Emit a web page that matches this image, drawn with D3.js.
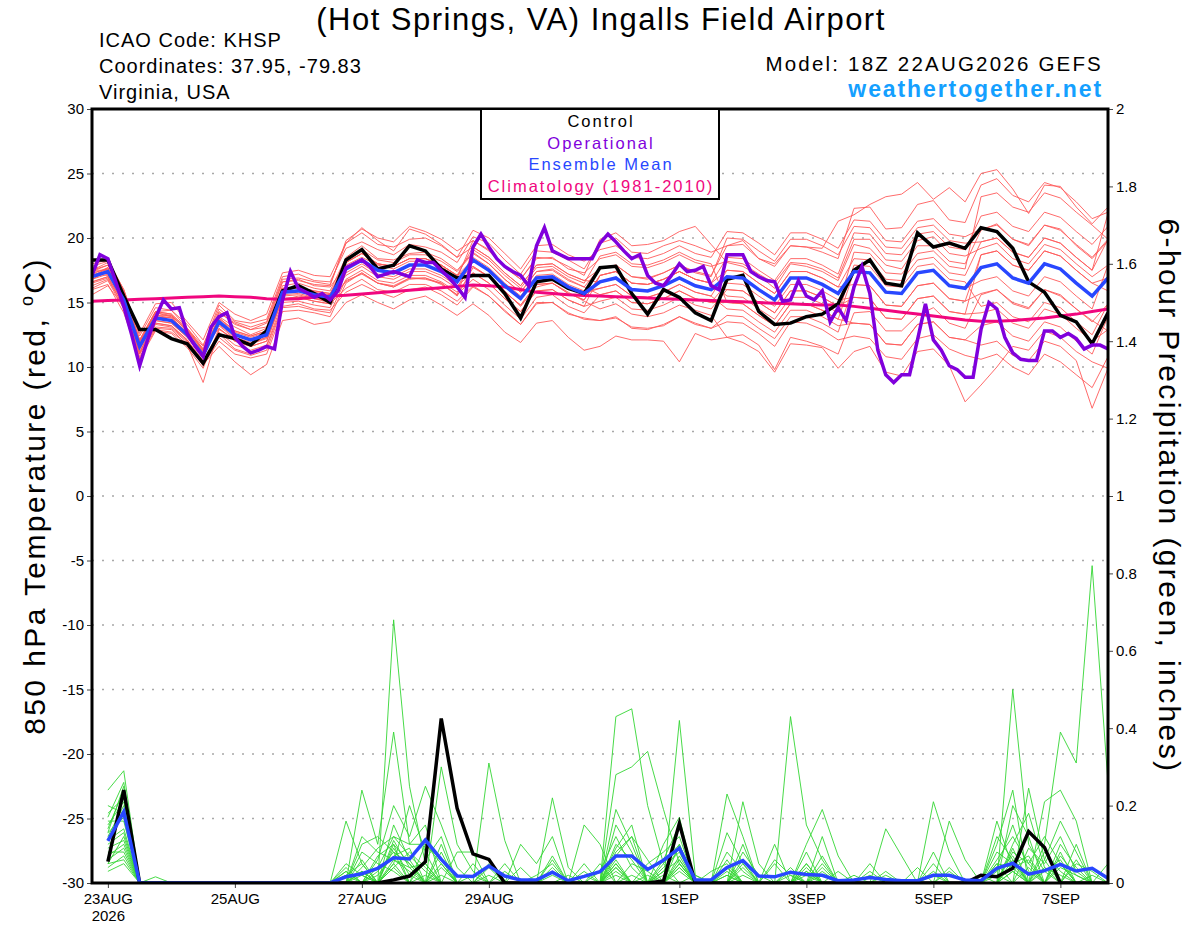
<!DOCTYPE html>
<html>
<head>
<meta charset="utf-8">
<script src="https://cdn.jsdelivr.net/npm/d3@7"></script>
<style>
  body { margin: 0; background: #fff; }
  svg { font-family: "Liberation Sans", Arial, sans-serif; }
</style>
</head>
<body>
<div class="chart"></div>
<script>
// run start and 6-hourly steps
const runStart = "2026-08-22T18:00:00Z";
const stepHours = 6;
const opStepHours = 3;
const endTime = "2026-09-07T18:00:00Z";

const dayTicks = ["2026-08-23","2026-08-25","2026-08-27","2026-08-29","2026-09-01","2026-09-03","2026-09-05","2026-09-07"];
const dayLabels = ["23AUG","25AUG","27AUG","29AUG","1SEP","3SEP","5SEP","7SEP"];
const tempTicks = [-30,-25,-20,-15,-10,-5,0,5,10,15,20,25,30];
const gridTemps = [-25,-20,-15,-10,-5,0,5,10,15,20,25];
const precipTicks = [0,0.2,0.4,0.6,0.8,1,1.2,1.4,1.6,1.8,2];

// 850 hPa temperature, 6-hourly from 22AUG 18Z
const controlTemp = [18.3,18.3,15.5,12.9,12.9,12.2,11.8,10.3, 12.5,12.2,11.7,12.8,15.9,16.3,15.7,15.0,
  18.3,19.1,17.6,17.9,19.4,19.0,17.6,16.9, 17.1,17.1,15.7,13.8,16.6,16.8,16.1,15.7,
  17.7,17.8,15.7,14.1,16.0,15.4,14.2,13.6, 16.8,17.1,14.3,13.3,13.4,13.9,14.1,14.9,
  17.5,18.3,16.5,16.3,20.4,19.3,19.6,19.2, 20.8,20.5,19.2,16.6,15.8,14.0,13.5,11.8, 14.2];

const meanTemp = [17.0,17.4,15.2,11.6,13.8,13.6,12.5,10.9, 13.5,12.5,12.1,12.5,15.8,15.9,15.6,15.4,
  17.6,18.3,17.5,17.3,17.9,17.9,17.4,16.6, 18.3,17.5,16.3,15.3,16.9,17.0,16.2,15.7,
  16.6,16.9,16.0,15.9,16.3,16.9,16.3,16.0, 17.0,16.9,16.0,15.2,16.9,16.9,16.4,15.7,
  17.4,17.3,15.8,15.7,17.3,17.5,16.3,16.1, 17.7,18.0,16.9,16.5,18.0,17.6,16.5,15.5, 16.9];

const climoTemp = [15.1,15.15,15.2,15.25,15.3,15.35,15.4,15.45, 15.5,15.45,15.4,15.3,15.25,15.3,15.4,15.5,
  15.56,15.65,15.75,15.85,15.95,16.05,16.15,16.25, 16.35,16.3,16.2,16.0,15.8,15.7,15.6,15.55,
  15.5,15.45,15.4,15.35,15.3,15.25,15.2,15.15, 15.1,15.05,15.0,14.95,14.9,14.85,14.8,14.8,
  14.7,14.55,14.4,14.25,14.1,13.95,13.8,13.65, 13.55,13.55,13.6,13.7,13.8,13.95,14.1,14.3, 14.5];

// operational run, 3-hourly
const operTemp = [17.1,18.7,18.4,16.6,14.7,12.5,10.1,12.1,13.8,15.2,14.5,14.6,12.6,11.6,10.8,13.1,
  13.9,14.2,12.3,11.6,11.1,11.3,11.6,11.4,15.2,17.4,16.1,15.8,15.4,15.7,15.2,15.9,
  17.7,18.0,18.3,17.8,17.0,17.2,17.4,17.2,17.0,18.3,18.1,18.1,17.5,16.9,16.2,15.4,
  19.3,20.3,19.3,18.4,17.8,17.4,17.1,16.3,19.4,20.8,19.0,18.7,18.4,18.4,18.4,18.4,
  19.6,20.3,19.7,19.0,18.4,18.7,17.1,16.5,16.3,17.1,18.0,17.4,17.5,17.8,16.3,16.0,
  18.7,18.7,18.7,17.4,17.0,16.7,16.6,15.1,15.2,16.7,15.5,15.2,15.9,13.5,14.6,13.6,
  16.2,17.8,15.7,11.3,9.4,8.8,9.4,9.4,12.1,14.9,12.1,11.3,10.1,9.8,9.2,9.2,
  12.9,15.0,14.5,12.3,11.1,10.6,10.5,10.5,12.8,12.8,12.3,12.6,12.2,11.4,11.7,11.7, 11.4];

// ensemble members, 6-hourly
const tempMembers = [
  [17.5,18.1,15.9,12.1,14.3,14.4,13.0,11.6, 14.8,13.6,13.4,13.7,17.0,17.2,16.7,16.6, 19.2,19.7,19.1,18.7,19.5,19.3,18.9,18.1, 20.1,19.6,18.3,17.2,19.0,18.9,18.3,17.6, 19.6,20.0,18.9,18.8,19.4,19.8,19.4,18.9, 19.4,19.5,18.4,17.8,19.4,19.3,18.9,18.4, 22.3,22.4,20.7,20.8,22.6,22.9,21.4,21.2, 24.1,24.6,23.3,22.8,24.3,23.9,22.8,21.5, 22.0],
  [16.1,16.7,14.5,10.8,12.9,12.7,11.8,10.1, 12.6,11.4,11.0,11.6,14.7,14.9,14.5,14.4, 15.8,16.4,15.8,15.4,16.0,16.2,15.6,14.8, 16.2,15.5,14.4,13.3,15.0,15.0,14.1,13.8, 13.6,13.8,13.1,13.0,13.2,13.9,13.4,13.0, 13.5,13.4,12.6,11.6,13.5,13.4,12.9,12.1, 12.4,12.2,10.8,10.6,12.2,12.5,11.4,10.9, 10.6,11.0,10.0,9.4,11.0,10.4,9.4,8.4, 10.8],
  [17.3,17.6,15.6,12.0,14.0,14.0,12.8,11.3, 14.2,13.4,12.9,13.1,16.6,16.7,16.4,16.3, 19.8,20.7,20.0,19.7,20.9,20.5,19.9,19.0, 19.8,19.0,17.7,16.8,18.5,18.4,17.8,17.1, 19.9,20.4,19.4,19.5,19.8,20.5,20.9,19.5, 18.1,17.8,17.1,16.1,18.0,17.8,17.4,16.7, 19.5,19.2,17.9,17.6,19.4,19.4,18.2,18.0, 20.6,21.1,19.9,19.4,21.0,20.7,19.4,18.4, 19.8],
  [16.6,17.0,14.9,11.2,13.4,13.2,12.1,10.2, 11.6,10.4,9.4,10.2,13.6,13.8,13.3,13.5, 15.0,15.6,15.0,14.5,15.2,15.5,14.8,14.0, 14.9,14.0,12.7,11.9,13.4,13.6,12.3,11.3, 11.6,12.4,12.1,12.1,12.0,10.4,12.6,12.1, 12.3,12.5,11.7,9.8,12.3,12.0,11.6,11.0, 14.2,14.3,12.8,12.8,14.0,14.6,13.4,13.0, 15.6,16.0,15.0,14.6,16.0,15.5,14.5,13.6, 12.8],
  [17.2,17.7,15.4,11.9,14.2,14.0,12.8,11.2, 13.9,13.1,12.5,13.0,16.3,16.5,16.1,15.9, 18.5,19.4,18.4,18.3,18.8,18.9,18.4,17.5, 18.9,18.0,16.8,15.8,17.4,17.6,16.8,16.2, 17.7,17.9,17.0,16.8,17.3,17.9,17.4,17.1, 19.4,19.8,18.4,18.0,19.4,19.3,19.2,21.3, 21.8,22.6,23.2,23.4,24.3,23.0,23.9,22.8, 25.0,25.3,23.8,21.9,24.1,24.0,22.4,21.1, 22.4],
  [15.6,16.3,14.7,11.0,13.0,12.9,11.7,8.8, 12.9,12.2,11.8,12.3,15.2,15.5,15.3,15.0, 16.7,17.2,16.5,16.2,16.8,16.9,16.5,15.5, 17.7,17.0,15.9,14.7,16.2,16.5,15.8,15.1, 14.5,14.9,14.1,13.9,14.2,14.8,14.4,14.0, 12.3,11.9,11.2,9.6,11.8,11.7,11.5,9.9, 11.2,11.6,9.6,9.3,11.2,11.4,10.1,7.3, 8.6,10.0,11.6,11.3,12.8,12.3,11.2,10.4, 9.9],
  [17.4,17.9,15.6,12.0,14.3,14.1,12.9,11.4, 14.3,13.3,12.9,13.4,16.6,16.8,16.3,16.2, 17.9,18.5,17.9,17.6,18.2,18.2,17.8,16.9, 19.8,19.1,17.8,16.8,18.4,18.5,17.6,17.3, 18.4,18.7,17.8,17.7,18.1,18.7,18.1,17.8, 18.2,18.0,17.2,16.5,18.1,18.0,17.6,16.9, 19.9,19.9,18.3,18.2,19.8,20.1,18.8,18.6, 19.2,19.6,18.4,18.0,19.5,19.1,18.0,17.0, 17.9],
  [16.3,16.8,14.7,11.0,13.1,13.0,11.9,10.2, 12.0,11.0,10.7,11.0,14.3,14.4,14.2,13.9, 16.5,17.3,16.5,16.2,16.9,16.8,16.5,15.6, 16.8,16.0,14.8,13.7,15.4,15.6,14.7,14.2, 15.6,15.9,15.0,14.9,15.3,15.9,15.3,15.0, 15.0,14.9,14.0,13.2,14.9,14.9,14.4,13.7, 13.4,13.3,11.8,11.7,13.3,13.5,12.3,12.1, 13.2,13.5,12.4,12.0,13.5,13.1,12.0,11.0, 13.9],
  [18.0,18.3,16.0,12.6,14.9,15.0,13.5,12.1, 15.0,14.1,13.6,14.1,17.3,17.5,17.1,17.0, 19.6,20.4,19.5,19.3,19.9,20.0,19.4,18.5, 20.6,20.0,18.8,17.6,19.4,19.5,18.7,18.2, 19.1,19.4,18.5,18.4,18.8,19.4,18.8,18.5, 20.5,20.4,19.6,18.7,20.4,20.4,19.9,19.2, 21.4,21.3,19.8,19.7,21.3,21.5,20.3,20.1, 20.7,21.0,19.9,19.5,21.0,20.6,19.5,18.5, 19.9],
  [16.8,17.2,15.0,11.4,13.6,13.4,12.3,10.7, 13.8,12.8,12.4,12.8,16.1,16.2,15.9,15.7, 17.1,17.8,17.0,16.8,17.4,17.4,16.9,16.1, 18.5,17.7,16.5,15.5,17.1,17.2,16.4,15.9, 16.1,16.4,15.5,15.4,15.8,16.4,15.8,15.5, 17.5,17.4,16.5,15.7,17.4,17.4,16.9,16.2, 18.4,18.3,16.8,16.7,18.3,18.5,17.3,17.1, 19.7,20.0,18.9,18.5,20.0,19.6,18.5,17.5, 19.9],
  [17.5,17.9,15.7,12.1,14.3,14.1,13.0,11.4, 13.0,12.0,11.6,12.0,15.3,15.4,15.1,14.9, 18.1,18.8,18.0,17.8,18.4,18.4,17.9,17.1, 18.3,17.5,16.3,15.3,16.9,17.0,16.2,15.7, 16.1,16.4,15.5,15.4,15.8,16.4,15.8,15.5, 14.5,14.4,13.5,12.7,14.4,14.4,13.9,13.2, 13.4,13.3,11.8,11.7,13.3,13.5,12.3,12.1, 11.7,12.0,10.9,10.5,12.0,11.6,10.5,6.8, 9.9],
  [17.0,17.7,15.7,11.1,13.8,13.9,12.5,11.2, 13.8,12.8,12.4,12.8,16.1,16.2,15.9,15.7, 18.1,18.8,18.0,17.8,18.4,18.4,17.9,17.1, 17.8,17.0,15.8,14.8,16.4,16.5,15.7,15.2, 17.1,17.4,16.5,16.4,16.8,17.4,16.8,16.5, 18.5,18.4,17.5,16.7,18.4,18.4,17.9,17.2, 20.4,20.3,18.8,18.7,20.3,20.5,19.3,19.1, 21.7,22.0,20.9,20.5,22.0,21.6,20.5,19.5, 20.9],
  [16.6,17.0,14.9,10.6,13.4,13.2,12.1,10.5, 12.7,11.7,11.3,11.7,15.0,15.1,14.8,14.6, 17.3,18.0,17.2,17.0,17.6,17.6,17.1,16.3, 17.3,16.5,15.3,14.3,15.9,16.0,15.2,14.7, 17.1,17.4,16.5,16.4,16.8,17.4,16.8,16.5, 15.5,15.4,14.5,13.7,15.4,15.4,14.9,14.2, 17.9,17.8,16.3,16.2,17.8,18.0,16.8,16.6, 14.7,15.0,13.9,13.5,15.0,14.6,13.5,12.5, 14.9],
  [17.8,18.2,16.0,12.4,14.6,14.4,13.3,11.7, 14.5,13.5,13.1,13.5,16.8,16.9,16.6,16.4, 19.6,20.8,19.8,19.0,20.7,20.3,19.5,18.5, 19.3,18.5,17.3,16.3,17.9,18.0,17.2,16.7, 16.6,16.9,16.0,15.9,16.3,16.9,16.3,16.0, 16.0,15.9,15.0,14.2,15.9,15.9,15.4,14.7, 18.9,18.8,17.3,17.2,18.8,19.0,17.8,17.6, 23.2,23.5,22.4,22.0,23.5,23.1,22.0,21.0, 19.9],
  [16.0,16.4,14.2,10.6,12.8,12.6,11.5,9.9, 13.0,12.0,11.6,12.0,15.3,15.4,15.1,14.9, 16.1,16.8,16.0,15.8,16.4,16.4,15.9,15.1, 16.3,15.5,14.3,13.3,14.9,15.0,14.2,13.7, 13.6,13.9,13.0,12.9,13.3,13.9,13.3,13.0, 14.0,13.9,13.0,12.2,13.9,13.9,13.4,12.7, 16.4,16.3,14.8,14.7,16.3,16.5,15.3,15.1, 18.7,19.0,17.9,17.5,19.0,18.6,17.5,16.5, 16.9],
  [17.2,17.1,15.4,11.8,14.0,13.8,12.7,11.1, 13.2,12.2,11.8,12.2,15.5,15.6,15.3,15.1, 18.1,18.8,18.0,17.8,18.4,18.4,17.9,17.1, 19.3,18.5,17.3,16.3,17.9,18.0,17.2,16.7, 17.6,17.9,17.0,16.9,17.3,17.9,17.3,17.0, 20.0,19.9,19.0,18.2,19.9,19.9,19.4,18.7, 20.9,20.8,19.3,19.2,20.8,21.0,19.8,19.6, 19.7,20.0,18.9,18.5,20.0,19.6,18.5,17.5, 21.9],
  [16.5,16.9,14.7,11.1,13.3,13.1,12.0,10.4, 12.3,11.3,10.9,11.3,14.6,14.7,14.4,14.2, 16.8,17.5,16.7,16.5,17.1,17.1,16.6,15.8, 17.3,16.5,15.3,14.3,15.9,16.0,15.2,14.7, 15.1,15.4,14.5,14.4,14.8,15.4,14.8,14.5, 16.0,15.9,15.0,14.2,15.9,15.9,15.4,14.7, 15.4,15.3,13.8,13.7,15.3,15.5,14.3,14.1, 14.2,14.5,13.4,13.0,14.5,14.1,13.0,12.0, 12.9],
  [17.1,17.6,15.3,11.7,13.9,13.8,12.6,11.0, 13.7,12.7,12.3,12.7,16.0,16.1,15.8,15.6, 18.4,19.1,18.3,18.1,18.7,18.7,18.2,17.4, 18.8,18.0,16.8,15.8,17.4,17.5,16.7,16.2, 15.6,15.9,15.0,14.9,15.3,15.9,15.3,15.0, 16.5,16.4,15.5,14.7,16.4,16.4,15.9,15.2, 15.4,15.3,13.8,13.7,15.3,15.5,14.3,14.1, 18.7,19.0,17.9,17.5,19.0,18.6,17.5,16.5, 15.9],
  [16.8,17.4,15.2,11.4,13.6,13.4,12.3,10.7, 13.5,12.5,12.1,12.5,15.8,15.9,15.6,15.4, 16.6,17.3,16.5,16.3,16.9,16.9,16.4,15.6, 19.1,18.3,17.1,16.1,17.7,17.8,17.0,16.5, 18.6,18.9,18.0,17.9,18.3,18.9,18.3,18.0, 15.0,14.9,14.0,13.2,14.9,14.9,14.4,13.7, 17.4,17.3,15.8,15.7,17.3,17.5,16.3,16.1, 16.7,17.0,15.9,15.5,17.0,16.6,15.5,14.5, 17.9],
  [17.5,17.5,15.3,11.9,14.2,13.9,12.9,11.3, 13.3,12.3,11.9,12.3,15.6,15.7,15.4,15.2, 17.6,18.3,17.5,17.3,17.9,17.9,17.4,16.6, 17.8,17.0,15.8,14.8,16.4,16.5,15.7,15.2, 17.1,17.4,16.5,16.4,16.8,17.4,16.8,16.5, 17.5,17.4,16.5,15.7,17.4,17.4,16.9,16.2, 16.4,16.3,14.8,14.7,16.3,16.5,15.3,15.1, 15.7,16.0,14.9,14.5,16.0,15.6,14.5,13.5, 14.9]
];

// 6-hour precipitation (inches), from 23AUG 00Z
const controlPrecip = [.055,.24,0,0,0,0,0,0,0,0,0,0,0,0,0,0,
  0,0,.008,.018,.055,.425,.193,.075,.061,0,0,0,0,0,0,0,
  0,0,0,.005,.154,0,0,0,0,0,0,0,0,0,0,0,
  0,0,0,0,0,0,0,.02,.016,.038,.133,.092,0,0,0,0];

const meanPrecip = [.109,.184,0,0,0,0,0,0,0,0,0,0,0,0,0,.016,
  .024,.038,.065,.062,.111,.061,.018,.017,.044,.018,.008,.008,.028,.006,.017,.029,
  .07,.07,.035,.059,.09,.008,.008,.04,.058,.018,.016,.028,.022,.02,.006,.008,
  .014,.009,.006,.006,.02,.02,.008,.006,.038,.051,.023,.032,.048,.031,.038,.012];

const precipMembers = [
  [.05,.12,0,0,0,0,0,0,0,0,0,0,0,0,0,0, .03,0,.68,.25,.05,0,0,0,0,0,0,0,.03,0,0,0, .08,.12,0,0,.05,0,0,0,0,0,0,.02,0,0,0,0, 0,0,0,0,.21,.08,0,0,0,.05,0,0,.04,.02,0,0],
  [.24,.29,0,0,0,0,0,0,0,0,0,0,0,0,0,.16, .05,0,.05,0,0,.3,.1,.03,0,0,0,0,0,0,0,0, .43,.45,.2,.05,0,0,0,.04,0,0,0,0,.03,0,0,0, 0,0,0,0,0,0,0,0,.16,.04,0,.1,.39,.31,.82,.26],
  [.13,.25,0,0,0,0,0,0,0,0,0,0,0,0,0,0, .24,.1,.39,.1,.15,0,0,0,.31,.11,0,0,0,0,.03,0, .19,.1,0,0,.42,.02,0,0,.21,.05,0,0,0,.05,0,0, 0,0,0,0,0,0,0,0,0,.5,.1,.03,0,0,0,0],
  [.15,.21,0,0,0,0,0,0,0,0,0,0,0,0,0,.04, 0,.06,.2,.12,.25,.15,.04,0,0,0,0,0,.22,.04,0,0, .28,.3,.34,.19,.05,0,0,0,0,0,0,.43,.15,.06,0,0, 0,0,0,0,0,0,0,0,0,0,.245,.06,0,0,0,0],
  [.2,.18,0,.016,0,0,0,0,0,0,0,0,0,0,0,0, .1,.12,.08,0,0,.05,0,0,0,0,.1,.05,.12,0,.15,.1, 0,0,0,.1,.17,0,0,.23,.12,0,0,0,.1,.19,.07,0, 0,0,0,0,0,0,0,0,.1,.24,0,.21,.24,.16,0,0],
  [.16,.16,0,0,0,0,0,0,0,0,0,0,0,0,0,0, .06,0,.1,.05,0,0,.08,.08,0,.05,0,0,0,0,0,0, .1,.06,0,0,.1,0,0,.13,.05,0,.1,0,0,.12,0,0, 0,.14,.07,0,0,.16,.06,0,0,.08,.05,.12,.05,0,0,0],
  [.03,.05,0,0,0,0,0,0,0,0,0,0,0,0,0,0, 0,.04,.12,.1,.1,.05,0,0,0,0,0,.02,.05,0,0,.05, 0,0,.05,.08,.12,0,0,0,.08,.02,0,0,.05,0,0,0, .05,0,0,0,.08,0,0,0,.06,.12,.05,0,0,.05,.03,0],
  [.1,.13,0,0,0,0,0,0,0,0,0,0,0,0,0,.02, .05,0,.15,.06,0,.1,0,0,.05,0,0,0,0,.02,0,0, .05,0,0,.03,.06,0,0,.06,0,0,.05,0,0,0,.03,0, 0,0,0,.04,0,0,0,0,.04,.15,.03,0,.08,0,0,.05],
  [.08,.08,0,0,0,0,0,0,0,0,0,0,0,0,0,0, .03,0,.05,.2,.08,0,0,.02,0,0,0,0,.07,0,0,0, .07,.12,.06,0,0,.02,0,0,.1,0,0,0,.05,0,0,0, 0,.02,0,0,.05,0,0,.02,0,.2,.12,0,0,.06,0,0],
  [.18,.22,0,0,0,0,0,0,0,0,0,0,0,0,0,.03, 0,.07,.1,0,.06,.12,0,0,0,.03,0,0,0,0,.05,0, .04,0,0,.04,.08,0,.03,.05,0,0,0,.03,0,.04,0,0, 0,0,0,0,0,0,0,0,.05,0,.09,.05,.12,.03,0,0],
  [.11,.14,0,0,0,0,0,0,0,0,0,0,0,0,0,0, .12,.08,.06,.04,0,0,0,0,0,0,0,0,.04,0,0,.03, .12,.04,0,0,.03,0,0,0,.04,0,0,0,.08,0,0,.02, 0,0,0,0,0,.03,0,0,.12,.06,0,.08,.03,0,0,0],
  [.07,.1,0,0,0,0,0,0,0,0,0,0,0,0,0,.05, .02,0,.04,.08,.04,0,0,0,.04,0,0,0,0,0,0,0, .06,0,0,.06,.15,0,0,.08,.03,0,0,0,0,.03,0,0, 0,0,0,0,.03,0,0,0,0,.1,.18,.04,0,0,0,0],
  [.13,.17,0,0,0,0,0,0,0,0,0,0,0,0,0,0, 0,.03,.08,.05,0,.08,0,0,0,0,.04,0,0,0,0,0, .15,.08,0,0,.04,0,0,0,0,0,.06,.02,0,0,0,0, .02,0,0,0,0,0,0,0,.03,.07,0,0,.1,.04,0,0],
  [.05,.06,0,0,0,0,0,0,0,0,0,0,0,0,0,0, .08,.05,.03,0,.02,0,0,0,0,0,0,0,.02,0,0,0, 0,.05,.03,0,.07,0,0,.02,0,0,0,0,.04,0,0,0, 0,.03,0,0,0,0,0,0,0,.03,0,.06,.16,.08,0,0],
  [.12,.2,0,0,0,0,0,0,0,0,0,0,0,0,0,.02, 0,0,.06,.03,0,.04,0,.05,0,0,0,0,0,0,0,0, .03,0,0,.05,.1,0,0,0,.06,0,0,0,0,.07,0,0, 0,0,0,0,0,.04,0,0,.08,.05,.07,0,0,0,0,0],
  [.09,.11,0,0,0,0,0,0,0,0,0,0,0,0,0,0, .04,.09,.12,.07,.03,0,0,0,0,0,0,0,.06,0,0,0, .09,.15,0,.02,0,0,0,.03,0,0,0,0,.02,0,0,0, 0,0,0,0,0,0,0,0,0,.09,0,.03,.06,0,0,0],
  [.14,.24,0,0,0,0,0,0,0,0,0,0,0,0,0,.03, 0,0,.04,0,.1,.06,0,0,0,0,0,0,0,0,.02,0, 0,.02,0,0,.05,0,0,0,.02,0,0,0,0,0,0,0, 0,0,0,0,.02,0,0,0,.05,.04,.06,0,0,.1,0,0],
  [.06,.09,0,0,0,0,0,0,0,0,0,0,0,0,0,0, .02,0,.09,.02,0,0,0,0,.02,0,0,0,0,0,0,0, .05,0,.02,0,.04,0,0,.04,0,0,0,0,.03,0,0,0, .03,0,0,0,0,0,0,0,0,.06,0,0,.05,0,.02,0],
  [.17,.26,0,0,0,0,0,0,0,0,0,0,0,0,0,0, 0,.02,.07,.09,0,.02,0,0,0,0,0,0,0,0,0,0, .02,0,0,.03,.09,0,0,0,.05,0,0,.04,0,0,0,0, 0,0,0,0,0,0,0,0,.02,0,.04,0,.07,.02,0,0],
  [.04,.07,0,0,0,0,0,0,0,0,0,0,0,0,0,0, .03,0,.11,.04,.05,0,0,0,0,0,0,0,.03,0,0,0, .04,0,0,0,.06,0,0,.02,0,0,0,0,0,.02,0,0, 0,0,0,0,0,0,0,0,0,.03,0,.04,.02,0,0,0]
];

const margin = ({top: 109, right: 92, bottom: 44, left: 92});
const width = 1200 - margin.left - margin.right;
const height = 927 - margin.top - margin.bottom;

const start = new Date(runStart);
const stepTime = (i, h) => d3.utcHour.offset(start, i * h);

const svg = d3.select('.chart').append('svg')
    .attr("width", 1200)
    .attr("height", 927);

const plot = svg.append("g")
    .attr("transform", `translate(${margin.left},${margin.top})`);

const xScale = d3.scaleUtc()
    .domain([start, new Date(endTime)])
    .range([0, width]);

const yTemp = d3.scaleLinear()
    .domain([-30, 30])
    .range([height, 0]);

const yPrecip = d3.scaleLinear()
    .domain([0, 2])
    .range([height, 0]);

plot.append("clipPath")
    .attr("id", "clip")
    .append("rect")
    .attr("width", width)
    .attr("height", height);

// dotted grid
plot.selectAll(".grid")
    .data(gridTemps)
    .enter()
    .append("line")
    .attr("class", "grid")
    .attr("x1", 0)
    .attr("x2", width)
    .attr("y1", d => yTemp(d))
    .attr("y2", d => yTemp(d))
    .attr("stroke", "#a8a8a8")
    .attr("stroke-width", 1.6)
    .attr("stroke-dasharray", "2,8");

const lines = plot.append("g").attr("clip-path", "url(#clip)");

const tempLine = d3.line()
    .x((d, i) => xScale(stepTime(i, stepHours)))
    .y(d => yTemp(d));

const operLine = d3.line()
    .x((d, i) => xScale(stepTime(i, opStepHours)))
    .y(d => yTemp(d));

// precip arrays begin one step after the run start
const precipLine = d3.line()
    .x((d, i) => xScale(stepTime(i + 1, stepHours)))
    .y(d => yPrecip(d));

lines.selectAll(".member")
    .data(tempMembers)
    .enter()
    .append("path")
    .attr("class", "member")
    .attr("d", tempLine)
    .attr("fill", "none")
    .attr("stroke", "#ff5a5a")
    .attr("stroke-width", 0.9);

lines.selectAll(".pmember")
    .data(precipMembers)
    .enter()
    .append("path")
    .attr("class", "pmember")
    .attr("d", precipLine)
    .attr("fill", "none")
    .attr("stroke", "#33d633")
    .attr("stroke-width", 0.9);

lines.append("path")
    .attr("d", tempLine(climoTemp))
    .attr("fill", "none")
    .attr("stroke", "#f0067e")
    .attr("stroke-width", 3);

lines.append("path")
    .attr("d", precipLine(controlPrecip))
    .attr("fill", "none")
    .attr("stroke", "#000")
    .attr("stroke-width", 3.5);

lines.append("path")
    .attr("d", precipLine(meanPrecip))
    .attr("fill", "none")
    .attr("stroke", "#2847ff")
    .attr("stroke-width", 3.5);

lines.append("path")
    .attr("d", tempLine(controlTemp))
    .attr("fill", "none")
    .attr("stroke", "#000")
    .attr("stroke-width", 3.5);

lines.append("path")
    .attr("d", tempLine(meanTemp))
    .attr("fill", "none")
    .attr("stroke", "#2847ff")
    .attr("stroke-width", 3.5);

lines.append("path")
    .attr("d", operLine(operTemp))
    .attr("fill", "none")
    .attr("stroke", "#8000dc")
    .attr("stroke-width", 3.5);

// axes
const xAxis = d3.axisBottom(xScale)
    .tickValues(dayTicks.map(d => new Date(d + "T00:00:00Z")))
    .tickFormat((d, i) => dayLabels[i])
    .tickSize(5)
    .tickPadding(5);

const yAxis = d3.axisLeft(yTemp)
    .tickValues(tempTicks)
    .tickFormat(d => String(d))
    .tickSize(5)
    .tickPadding(3);

const y2Axis = d3.axisRight(yPrecip)
    .tickValues(precipTicks)
    .tickFormat(d => String(d))
    .tickSize(5)
    .tickPadding(3);

const gx = plot.append("g")
    .attr("class", "axis x-axis")
    .attr("transform", `translate(0, ${height})`)
    .call(xAxis);

plot.append("g")
    .attr("class", "axis y-axis")
    .call(yAxis);

plot.append("g")
    .attr("class", "axis y2-axis")
    .attr("transform", `translate(${width}, 0)`)
    .call(y2Axis);

plot.selectAll(".axis .domain").remove();
plot.selectAll(".axis text")
    .attr("font-family", "Liberation Sans, Arial, sans-serif")
    .attr("font-size", "15px")
    .attr("fill", "#000");
plot.selectAll(".axis line").attr("stroke", "#444");

gx.select(".tick text")
    .append("tspan")
    .attr("x", 0)
    .attr("dy", "1.15em")
    .text("2026");

// frame
plot.append("rect")
    .attr("width", width)
    .attr("height", height)
    .attr("fill", "none")
    .attr("stroke", "#000")
    .attr("stroke-width", 3);

// legend
const legendItems = [
  {label: "Control", color: "#000"},
  {label: "Operational", color: "#8000dc"},
  {label: "Ensemble Mean", color: "#2847ff"},
  {label: "Climatology (1981-2010)", color: "#f0067e"}
];

const legend = svg.append("g");
legend.append("rect")
    .attr("x", 481)
    .attr("y", 109)
    .attr("width", 238)
    .attr("height", 90)
    .attr("fill", "#fff")
    .attr("stroke", "#000")
    .attr("stroke-width", 2);

legend.selectAll("text")
    .data(legendItems)
    .enter()
    .append("text")
    .attr("x", 601)
    .attr("y", (d, i) => 127 + i * 21.6)
    .attr("text-anchor", "middle")
    .attr("font-size", "16.5px")
    .attr("letter-spacing", "2px")
    .attr("fill", d => d.color)
    .text(d => d.label);

// header text
svg.append("text")
    .attr("x", 601)
    .attr("y", 30)
    .attr("text-anchor", "middle")
    .attr("font-size", "31px")
    .attr("letter-spacing", "1.5px")
    .text("(Hot Springs, VA) Ingalls Field Airport");

const info = ["ICAO Code: KHSP", "Coordinates: 37.95, -79.83", "Virginia, USA"];
svg.selectAll(".info")
    .data(info)
    .enter()
    .append("text")
    .attr("class", "info")
    .attr("x", 99)
    .attr("y", (d, i) => 47 + i * 26)
    .attr("font-size", "20px")
    .attr("letter-spacing", "1px")
    .text(d => d);

svg.append("text")
    .attr("x", 1103)
    .attr("y", 71)
    .attr("text-anchor", "end")
    .attr("font-size", "20.5px")
    .attr("letter-spacing", "2.2px")
    .text("Model: 18Z 22AUG2026 GEFS");

svg.append("text")
    .attr("x", 1103)
    .attr("y", 97)
    .attr("text-anchor", "end")
    .attr("font-size", "23px")
    .attr("font-weight", "bold")
    .attr("letter-spacing", "1.9px")
    .attr("fill", "#14a0ff")
    .text("weathertogether.net");

// axis titles
const leftTitle = svg.append("text")
    .attr("transform", "translate(45, 496) rotate(-90)")
    .attr("text-anchor", "middle")
    .attr("font-size", "30px")
    .attr("letter-spacing", "2.4px");
leftTitle.append("tspan").text("850 hPa Temperature (red, ");
leftTitle.append("tspan").attr("font-size", "18px").attr("dy", "-12").text("o");
leftTitle.append("tspan").attr("dy", "12").text("C)");

svg.append("text")
    .attr("transform", "translate(1159, 496) rotate(90)")
    .attr("text-anchor", "middle")
    .attr("font-size", "30px")
    .attr("letter-spacing", "2.4px")
    .text("6-hour Precipitation (green, inches)");
</script>
</body>
</html>
